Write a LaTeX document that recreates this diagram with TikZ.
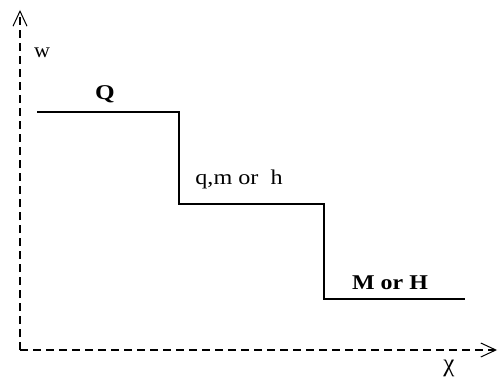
\documentclass[tikz,border=0pt]{standalone}
\usepackage{fontspec}
\setmainfont{Liberation Serif}
\usetikzlibrary{arrows.meta}
\begin{document}
\begin{tikzpicture}[x=1pt,y=-1pt,
  axis/.style={line width=1.3pt, dash pattern=on 8pt off 5pt,
    -{Straight Barb[length=15pt,width=14pt,line width=1pt]}},
  level/.style={line width=2pt, line join=miter},
  lbl/.style={inner sep=0pt, font=\fontsize{21}{24}\selectfont}]
  \useasboundingbox (0,0) rectangle (498,385);
  % axes
  \coordinate (o) at (20,350);
  \coordinate (ytip) at (20,10);
  \coordinate (xtip) at (497,350);
  \draw[axis] (o) -- (ytip);
  \draw[axis] (o) -- (xtip);
  % staircase of levels
  \coordinate (a) at (37,112);
  \coordinate (b) at (179,112);
  \coordinate (c) at (179,204);
  \coordinate (d) at (324,204);
  \coordinate (e) at (324,299);
  \coordinate (f) at (465,299);
  \draw[level] (a) -- (b) -- (c) -- (d) -- (e) -- (f);
  % labels
  \node[lbl] (w) at (42,53) {\scalebox{1.05}[1]{w}};
  \node[lbl] (Q) at (105,94) {\scalebox{1.2}[1]{\bfseries Q}};
  \node[lbl] (qmh) at (239,179) {\scalebox{1.15}[1]{q,m or\ \ h}};
  \node[lbl] (MH) at (390,283) {\scalebox{1.14}[1]{\bfseries M or H}};
  \node[lbl, font=\fontsize{25}{28}\selectfont] (chi) at (449,368) {χ};
\end{tikzpicture}
\end{document}
